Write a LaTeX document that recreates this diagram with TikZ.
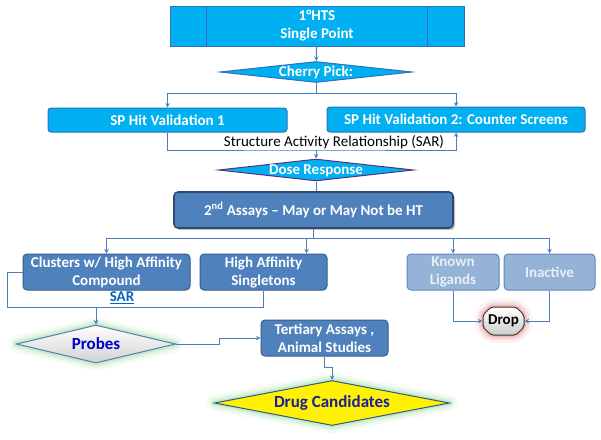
\documentclass[tikz,border=0pt]{standalone}
\usepackage{fontspec}
\setmainfont{Carlito}
\usetikzlibrary{arrows}
\usetikzlibrary{shapes.geometric}
\usetikzlibrary{shapes.misc}
\usetikzlibrary{shadows}
\definecolor{mcyan}{RGB}{0,176,240}
\definecolor{mcyanline}{RGB}{47,110,186}
\definecolor{msteel}{RGB}{79,129,189}
\definecolor{msteelline}{RGB}{56,93,138}
\definecolor{mpale}{RGB}{149,179,215}
\definecolor{mpaleline}{RGB}{100,135,185}
\definecolor{mpaletext}{RGB}{232,239,247}
\definecolor{mconn}{RGB}{74,126,187}
\definecolor{mpurple}{RGB}{90,50,120}
\definecolor{mglow}{RGB}{140,215,145}
\definecolor{mred}{RGB}{232,120,120}
\definecolor{mnavy}{RGB}{30,30,150}
\definecolor{mprobe}{RGB}{0,0,200}
\definecolor{mlink}{RGB}{5,99,193}

\begin{document}
\begin{tikzpicture}[x=1pt, y=-1pt, >=stealth,
    conn/.style={draw=mconn, line width=1pt},
    btext/.style={font=\bfseries\fontsize{15}{18}\selectfont, align=center, inner sep=0pt},
    cyanbox/.style={btext, draw=mcyanline, fill=mcyan, text=white, line width=1pt, rounded corners=3pt},
    cyandiamond/.style={btext, diamond, aspect=9, text height=9pt, text depth=1pt, draw=mcyanline, fill=mcyan, text=white, line width=1pt},
    steelbox/.style={btext, draw=msteelline, fill=msteel, text=white, line width=1pt, rounded corners=4pt},
    palebox/.style={btext, draw=mpaleline, fill=mpale, text=mpaletext, line width=1pt, rounded corners=4pt},
    glow/.style={preaction={draw=#1, line width=16pt, opacity=0.1, line join=round},
                 preaction={draw=#1, line width=10pt, opacity=0.18, line join=round},
                 preaction={draw=#1, line width=5pt, opacity=0.3, line join=round}}]
    \useasboundingbox (0,0) rectangle (601,439);

    % screening
    \node[cyanbox, rounded corners=0pt, minimum width=294, minimum height=40] (hts) at (317,26) {1°HTS\\Single Point};
    \draw[mcyanline, line width=1pt] ([xshift=37pt]hts.north west) -- ([xshift=37pt]hts.south west);
    \draw[mcyanline, line width=1pt] ([xshift=-37pt]hts.north east) -- ([xshift=-37pt]hts.south east);
    \node[cyandiamond, minimum width=192, minimum height=21] (cherry) at (316,72) {Cherry Pick:};
    \node[cyanbox, minimum width=239, minimum height=24] (sp1) at (167.5,120) {SP Hit Validation 1};
    \node[cyanbox, minimum width=258, minimum height=25] (sp2) at (456,119.5) {SP Hit Validation 2: Counter Screens};
    \node[font=\fontsize{15}{17}\selectfont, inner sep=0pt] (sar) at (334,142) {Structure Activity Relationship (SAR)};
    \coordinate (sarjoin) at (316,150);
    \node[cyandiamond, draw=mpurple, minimum width=195, minimum height=22] (dose) at (316,170) {Dose Response};
    \node[steelbox, draw=msteelline!80!black, line width=1.6pt, drop shadow={shadow xshift=2pt, shadow yshift=-2pt, opacity=0.45},
          minimum width=279, minimum height=36] (assay) at (313.5,210) {2\textsuperscript{nd} Assays -- May or May Not be HT};

    \draw[conn, ->] (hts) -- (cherry);
    \draw[conn, ->] (cherry.south) -- ++(0,10) -| (sp1.north);
    \draw[conn, ->] (cherry.south) -- ++(0,10) -| (sp2.north);
    \draw[conn, ->] (sp1.south) |- (sarjoin) -| (sp2.south);
    \draw[conn, ->] (sarjoin) -- (dose.north);
    \draw[conn] (dose.south) -- (dose.south |- assay.north);

    % secondary results
    \node[steelbox, minimum width=167, minimum height=36] (clus) at (106.5,272) {Clusters w/ High Affinity\\Compound};
    \node[steelbox, minimum width=127, minimum height=36] (sing) at (263.5,272) {High Affinity\\Singletons};
    \node[palebox, minimum width=92, minimum height=36] (known) at (453,272) {Known\\Ligands};
    \node[palebox, minimum width=91, minimum height=36] (inact) at (549.5,272) {Inactive};
    \node[font=\bfseries\fontsize{15}{17}\selectfont, text=mlink, inner sep=0pt] (sarlink) at (122,298) {\underline{SAR}};
    \coordinate (sarlow) at (263.5,307);

    \draw[conn, ->] (assay.south) -- ++(0,10) -| (clus.north);
    \draw[conn, ->] (assay.south) -- ++(0,10) -| ([xshift=43pt]sing.north);
    \draw[conn, ->] (assay.south) -- ++(0,10) -| (known.north);
    \draw[conn, ->] (assay.south) -- ++(0,10) -| (inact.north);

    % outcomes
    \node[btext, diamond, aspect=4.2, minimum width=159, minimum height=38, draw=mconn!80!gray, line width=1pt,
          top color=white, bottom color=gray!35, glow=mglow, text=mprobe, font=\bfseries\fontsize{17}{19}\selectfont] (probes) at (96,344) {Probes};
    \node[steelbox, minimum width=127, minimum height=36] (tert) at (324.5,338) {Tertiary Assays ,\\Animal Studies};
    \node[btext, diamond, aspect=5.2, minimum width=235, minimum height=45, draw=mconn!70!black, line width=1pt,
          fill=yellow, glow=mglow, text=mnavy, font=\bfseries\fontsize{17}{19}\selectfont] (drug) at (332,403) {Drug Candidates};
    \node[btext, chamfered rectangle, chamfered rectangle xsep=4pt, chamfered rectangle ysep=4pt, rounded corners=2pt,
          minimum width=41, minimum height=28, draw=black!80, line width=1pt, top color=white, bottom color=gray!40,
          glow=mred, text=black] (drop) at (503.5,321) {Drop};

    \draw[conn] (clus.west) -- ++(-15,0) |- (sarlow) -- (sing.south);
    \draw[conn, ->] (probes.north |- sarlow) -- (probes.north);
    \draw[conn, ->] (probes.east) -- ++(43,0) |- (tert.west);
    \draw[conn, ->] (tert.south) -- ++(0,11) -| (drug.north);
    \draw[conn, ->] (known.south) |- (drop.west);
    \draw[conn, ->] (inact.south) |- (drop.east);
  \end{tikzpicture}
\end{document}
